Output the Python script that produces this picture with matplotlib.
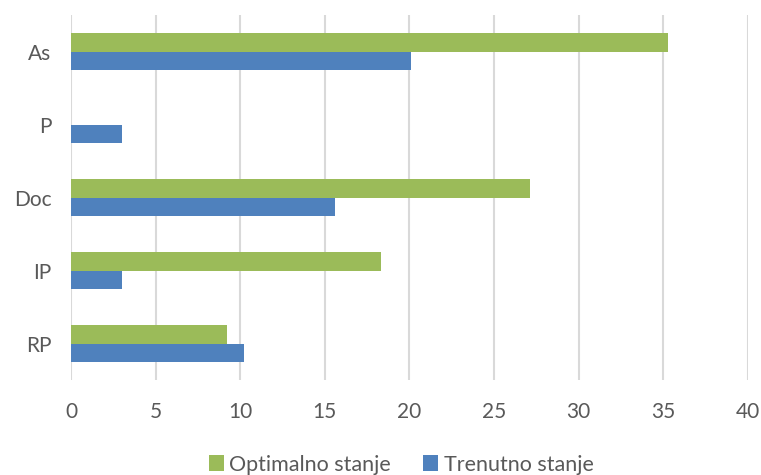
import matplotlib
matplotlib.use("Agg")
import matplotlib.pyplot as plt
import numpy as np

categories = ["As", "P", "Doc", "IP", "RP"]
optimalno = [35.3, 0, 27.1, 18.3, 9.2]
trenutno = [20.1, 3.0, 15.6, 3.0, 10.2]
xticks = [0, 5, 10, 15, 20, 25, 30, 35, 40]

plt.rcParams['font.family'] = ['Lato', 'DejaVu Sans']
text_color = '#595959'
green = '#9BBB59'
blue = '#4F81BD'

fig = plt.figure(figsize=(7.61, 4.75), dpi=100)
ax = fig.add_axes([71/761, 1-380/475, (748-71)/761, 365/475])

n = len(categories)
pos = np.arange(n)[::-1]  # As at top
h = 0.26
ax.barh(pos + h/2, optimalno, height=h, color=green, label='Optimalno stanje', zorder=3)
ax.barh(pos - h/2, trenutno, height=h, color=blue, label='Trenutno stanje', zorder=3)

ax.set_xlim(0, 40)
ax.set_ylim(-0.5, n - 0.5)
ax.set_xticks(xticks)
ax.set_xticklabels([str(t) for t in xticks])
ax.set_yticks(pos)
ax.set_yticklabels(categories)
ax.tick_params(axis='both', length=0, labelsize=15, colors=text_color)
ax.tick_params(axis='y', pad=14)
ax.tick_params(axis='x', pad=16)
ax.grid(axis='x', color='#D9D9D9', linewidth=1.5, zorder=0)
for s in ax.spines.values():
    s.set_visible(False)

fig.legend(loc='center', bbox_to_anchor=(0.527, 0.022), ncol=2, frameon=False,
           fontsize=15.5, handlelength=0.7, handleheight=0.7, handletextpad=0.25,
           columnspacing=1.5, labelcolor=text_color, borderpad=0)

fig.savefig('out.png', dpi=100)
